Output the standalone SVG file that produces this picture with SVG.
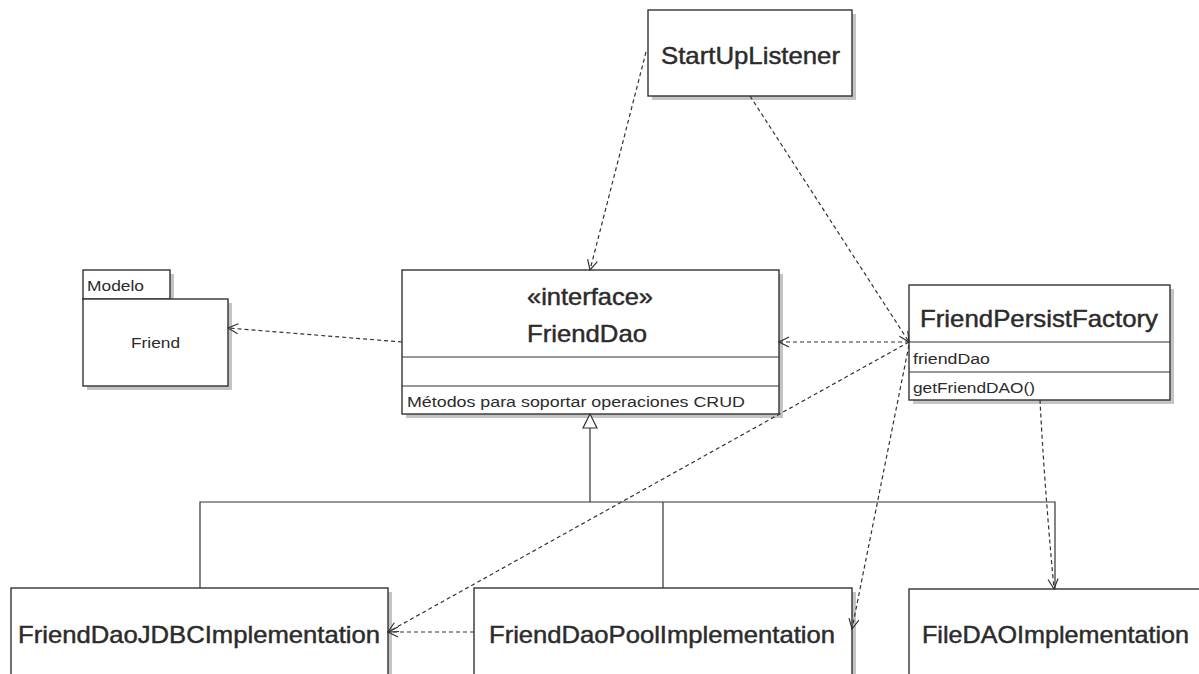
<svg xmlns="http://www.w3.org/2000/svg" width="1199" height="674" viewBox="0 0 1199 674">
<style>
.box{fill:#fff;stroke:#333;stroke-width:1.4}
.shadow{fill:#c4c4c4}
.line{fill:none;stroke:#333;stroke-width:1.2}
.dep{fill:none;stroke:#333;stroke-width:1.2;stroke-dasharray:4 3;marker-end:url(#open)}
text{font-family:"Liberation Sans",Arial,sans-serif;fill:#2b2b2b}
.big{font-size:24px;stroke:#2b2b2b;stroke-width:0.45}
.small{font-size:14px}
</style>
<defs>
<marker id="open" viewBox="0 0 12 12" refX="11" refY="6" markerWidth="12" markerHeight="12" markerUnits="userSpaceOnUse" orient="auto">
<path d="M1,1 L11,6 L1,11" fill="none" stroke="#333" stroke-width="1.2"/>
</marker>
</defs>
<rect width="1199" height="674" fill="#fff"/>

<g id="StartUpListener">
<rect class="shadow" x="652" y="14" width="204" height="86"/>
<rect class="box" x="648" y="10" width="204" height="86"/>
<text class="big" x="661" y="64" textLength="179" lengthAdjust="spacingAndGlyphs">StartUpListener</text>
</g>

<g id="Modelo">
<rect class="shadow" x="87" y="274" width="87" height="29"/>
<rect class="shadow" x="87" y="303" width="145" height="87"/>
<rect class="box" x="83" y="270" width="87" height="29"/>
<rect class="box" x="83" y="299" width="145" height="87"/>
<text class="small" x="87" y="291" textLength="57" lengthAdjust="spacingAndGlyphs">Modelo</text>
<text class="small" x="131" y="348" textLength="49" lengthAdjust="spacingAndGlyphs">Friend</text>
</g>

<g id="FriendDao">
<rect class="shadow" x="406" y="274" width="377" height="144"/>
<rect class="box" x="402" y="270" width="377" height="144"/>
<line class="line" x1="402" y1="357" x2="779" y2="357"/>
<line class="line" x1="402" y1="386" x2="779" y2="386"/>
<text class="big" x="590" y="305" text-anchor="middle" textLength="126" lengthAdjust="spacingAndGlyphs">«interface»</text>
<text class="big" x="587" y="342" text-anchor="middle" textLength="120" lengthAdjust="spacingAndGlyphs">FriendDao</text>
<text class="small" x="407" y="407" textLength="338" lengthAdjust="spacingAndGlyphs">Métodos para soportar operaciones CRUD</text>
</g>

<g id="FriendPersistFactory">
<rect class="shadow" x="913" y="289" width="261" height="115"/>
<rect class="box" x="909" y="285" width="261" height="115"/>
<line class="line" x1="909" y1="342" x2="1170" y2="342"/>
<line class="line" x1="909" y1="372" x2="1170" y2="372"/>
<text class="big" x="920" y="327" textLength="238" lengthAdjust="spacingAndGlyphs">FriendPersistFactory</text>
<text class="small" x="913" y="364" textLength="77" lengthAdjust="spacingAndGlyphs">friendDao</text>
<text class="small" x="913" y="393" textLength="122" lengthAdjust="spacingAndGlyphs">getFriendDAO()</text>
</g>

<g id="FriendDaoJDBCImplementation">
<rect class="shadow" x="15" y="592" width="377" height="100"/>
<rect class="box" x="11" y="588" width="377" height="100"/>
<text class="big" x="18" y="643" textLength="362" lengthAdjust="spacingAndGlyphs">FriendDaoJDBCImplementation</text>
</g>

<g id="FriendDaoPoolImplementation">
<rect class="shadow" x="478" y="592" width="378" height="100"/>
<rect class="box" x="474" y="588" width="378" height="100"/>
<text class="big" x="489" y="643" textLength="346" lengthAdjust="spacingAndGlyphs">FriendDaoPoolImplementation</text>
</g>

<g id="FileDAOImplementation">
<rect class="box" x="909" y="589" width="310" height="100"/>
<text class="big" x="922" y="643" textLength="267" lengthAdjust="spacingAndGlyphs">FileDAOImplementation</text>
</g>

<g id="connectors">
<path class="line" d="M200,588 V502 H1055 V589 M663,502 V588 M590,502 V428"/>
<path d="M590,414 L583,428 L597,428 Z" fill="#fff" stroke="#333" stroke-width="1.2"/>
<path class="dep" d="M646,52 L590,270"/>
<path class="dep" d="M750,96 L909,342"/>
<path class="dep" d="M909,342 L779,342"/>
<path class="dep" d="M909,342 L388,632"/>
<path class="dep" d="M909,345 L852,629"/>
<path class="dep" d="M474,632 L388,632"/>
<path class="dep" d="M402,342 L228,328"/>
<path class="dep" d="M1040,400 Q1044,480 1054,589"/>
</g>
</svg>
